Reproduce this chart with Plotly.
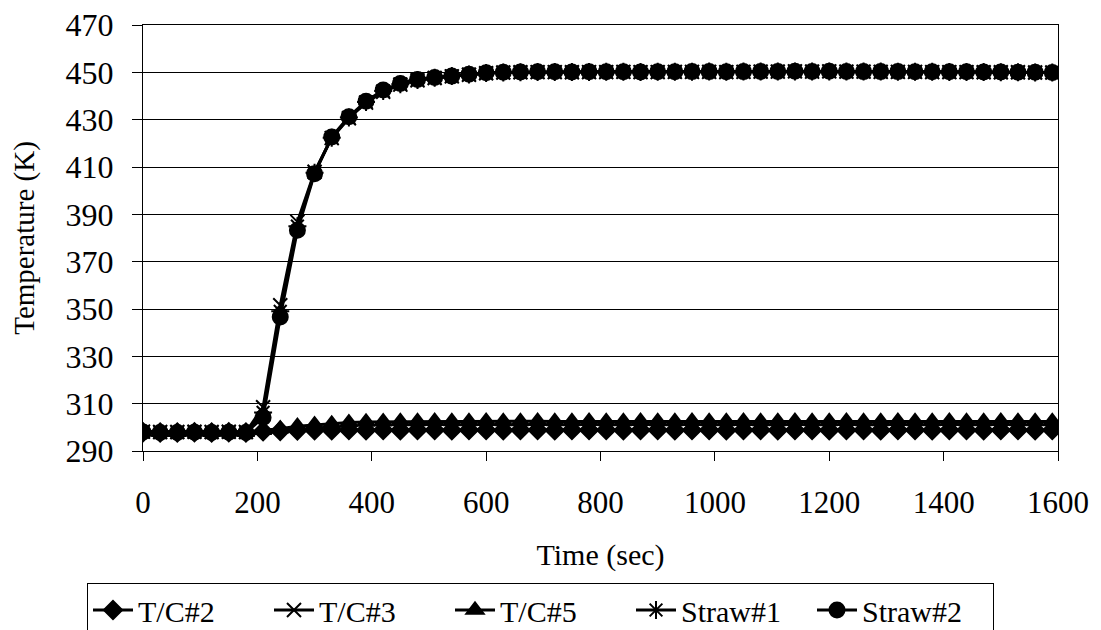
import plotly.graph_objects as go

# Time (sec)
time_s = [0, 30, 60, 90, 120, 150, 180, 210, 240, 270, 300, 330, 360, 390, 420, 450,
          480, 510, 540, 570, 600, 630, 660, 690, 720, 750, 780, 810, 840, 870, 900,
          930, 960, 990, 1020, 1050, 1080, 1110, 1140, 1170, 1200, 1230, 1260, 1290,
          1320, 1350, 1380, 1410, 1440, 1470, 1500, 1530, 1560, 1590]

tc2 = [297.9, 297.8, 297.8, 297.9, 297.8, 297.9, 297.8, 298.3, 298.5, 298.7, 298.8,
       298.8, 298.9, 298.8, 298.9, 298.8, 298.9, 298.9, 298.8, 298.9, 298.9, 298.8,
       298.9, 298.9, 298.8, 298.9, 298.9, 298.9, 298.8, 298.9, 298.9, 298.8, 298.9,
       298.9, 298.8, 298.9, 298.9, 298.8, 298.9, 298.9, 298.8, 298.9, 298.9, 298.8,
       298.9, 298.9, 298.8, 298.9, 298.9, 298.8, 298.9, 298.9, 298.8, 298.9]

tc3 = [298.2, 298.0, 298.0, 298.1, 298.0, 298.1, 298.0, 308.5, 351.6, 386.8, 408.0,
       422.2, 430.6, 437.2, 441.8, 444.8, 446.6, 447.6, 448.3, 449.0, 449.6, 449.9,
       450.0, 450.1, 450.1, 450.0, 450.1, 450.1, 450.2, 450.1, 450.1, 450.2, 450.2,
       450.2, 450.1, 450.2, 450.3, 450.3, 450.4, 450.3, 450.4, 450.3, 450.3, 450.2,
       450.2, 450.2, 450.1, 450.1, 450.1, 450.0, 450.0, 450.0, 449.9, 449.9]

tc5 = [298.0, 297.9, 297.9, 298.0, 297.9, 298.0, 297.9, 298.8, 299.4, 300.5, 301.1,
       301.5, 302.0, 302.3, 302.4, 302.5, 302.5, 302.6, 302.5, 302.5, 302.6, 302.5,
       302.5, 302.6, 302.5, 302.5, 302.6, 302.5, 302.5, 302.6, 302.5, 302.5, 302.6,
       302.5, 302.5, 302.6, 302.5, 302.5, 302.6, 302.5, 302.5, 302.6, 302.5, 302.5,
       302.6, 302.5, 302.5, 302.6, 302.5, 302.5, 302.6, 302.5, 302.5, 302.5]

straw1 = [298.1, 297.9, 297.9, 298.0, 297.9, 298.0, 297.9, 306.3, 349.0, 385.0, 407.6,
          422.4, 430.9, 437.5, 442.1, 445.0, 446.8, 447.7, 448.4, 449.1, 449.7, 449.9,
          450.0, 450.1, 450.1, 450.1, 450.1, 450.2, 450.2, 450.1, 450.2, 450.2, 450.2,
          450.3, 450.2, 450.3, 450.3, 450.4, 450.4, 450.4, 450.4, 450.3, 450.3, 450.3,
          450.2, 450.2, 450.2, 450.1, 450.1, 450.1, 450.0, 450.0, 449.9, 449.9]

straw2 = [298.0, 297.8, 297.8, 297.9, 297.8, 297.9, 297.8, 304.2, 346.6, 383.3, 407.2,
          422.7, 431.2, 437.8, 442.5, 445.3, 447.0, 447.8, 448.4, 449.2, 449.8, 450.0,
          450.1, 450.2, 450.2, 450.1, 450.2, 450.2, 450.2, 450.1, 450.2, 450.2, 450.3,
          450.3, 450.2, 450.3, 450.4, 450.4, 450.5, 450.4, 450.5, 450.4, 450.3, 450.3,
          450.3, 450.2, 450.2, 450.2, 450.2, 450.1, 450.1, 450.0, 450.0, 449.9]

series_names = ["T/C#2", "T/C#3", "T/C#5", "Straw#1", "Straw#2"]
series_values = [tc2, tc3, tc5, straw1, straw2]
symbols = ["diamond", "x-thin-open", "triangle-up", "asterisk-open", "circle"]
sizes = [14, 14, 15, 15, 15]

y_ticks = [290, 310, 330, 350, 370, 390, 410, 430, 450, 470]
x_ticks = [0, 200, 400, 600, 800, 1000, 1200, 1400, 1600]

FONT = "Liberation Serif, Times New Roman, serif"
PLOT_W = 1101 - 143 - 43
PLOT_H = 630 - 25 - 179

fig = go.Figure()
for name, vals, sym, sz in zip(series_names, series_values, symbols, sizes):
    fig.add_trace(go.Scatter(
        x=time_s, y=vals, name=name, mode="lines+markers",
        line=dict(color="black", width=3),
        marker=dict(symbol=sym, size=sz, color="black",
                    line=dict(color="black", width=2)),
    ))

fig.update_layout(
    width=1101, height=630,
    margin=dict(l=143, r=43, t=25, b=179, autoexpand=False),
    paper_bgcolor="white", plot_bgcolor="white",
    font=dict(family=FONT, color="black", size=29),
    showlegend=True,
    legend=dict(
        orientation="h", x=(87 - 143) / PLOT_W, xref="paper",
        xanchor="left", y=(451 - 583) / PLOT_H, yanchor="top",
        bordercolor="black", borderwidth=1, bgcolor="white",
        font=dict(family=FONT, size=30, color="black"),
        itemwidth=40, tracegroupgap=0,
        entrywidth=126, entrywidthmode="pixels",
    ),
    xaxis=dict(
        range=[0, 1600], tickvals=x_ticks, ticktext=[str(v) for v in x_ticks],
        showgrid=False, zeroline=False,
        showline=True, linecolor="black", linewidth=1, mirror=True,
        ticks="outside", ticklen=9, tickcolor="black", tickwidth=1,
        ticklabelstandoff=15,
        tickfont=dict(family=FONT, size=31, color="black"),
        title=dict(text="Time (sec)", font=dict(family=FONT, size=30, color="black"), standoff=24),
    ),
    yaxis=dict(
        range=[290, 470], tickvals=y_ticks, ticktext=[str(v) for v in y_ticks],
        showgrid=True, gridcolor="black", gridwidth=1, zeroline=False,
        showline=True, linecolor="black", linewidth=1, mirror=True,
        ticks="outside", ticklen=10, tickcolor="black", tickwidth=1,
        ticklabelstandoff=12,
        tickfont=dict(family=FONT, size=32, color="black"),
        title=dict(text="Temperature (K)", font=dict(family=FONT, size=29, color="black"), standoff=22),
    ),
)

fig.write_html("out.html")
